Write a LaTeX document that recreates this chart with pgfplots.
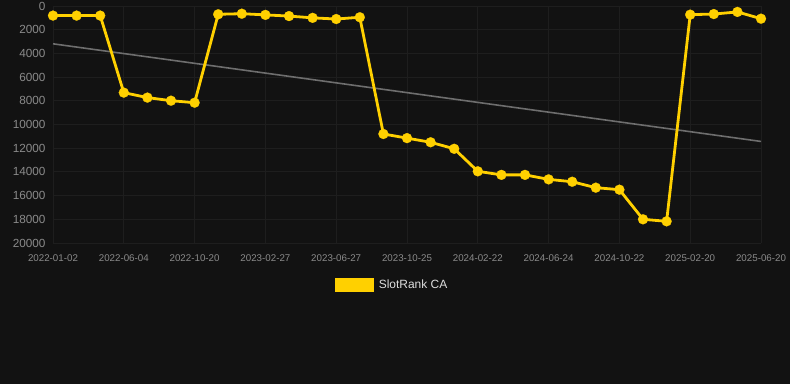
\documentclass[border=0pt]{standalone}
\usepackage{fontspec}
\setmainfont{Liberation Sans}
\usepackage{pgfplots}
\pgfplotsset{compat=1.18}
\definecolor{bg}{HTML}{121212}
\definecolor{grd}{HTML}{1E1E1E}
\definecolor{tick}{HTML}{8A8A8A}
\definecolor{gold}{HTML}{FFD000}
\definecolor{trend}{HTML}{6E6E6E}
\definecolor{legtxt}{HTML}{DDDDDD}
\begin{document}
\begin{tikzpicture}[x=1bp,y=1bp]
\fill[bg] (0,0) rectangle (790,384);
\useasboundingbox (0,0) rectangle (790,384);
\begin{axis}[
  at={(53bp,141bp)}, anchor=south west,
  scale only axis, width=708bp, height=237bp,
  xmin=0, xmax=30, ymin=0, ymax=20000,
  y dir=reverse,
  axis line style={draw=none},
  major tick length=0pt,
  grid=major, grid style={grd, line width=1bp},
  xtick={0,3,...,30},
  xticklabels={2022-01-02,2022-06-04,2022-10-20,2023-02-27,2023-06-27,2023-10-25,2024-02-22,2024-06-24,2024-10-22,2025-02-20,2025-06-20},
  ytick={0,2000,...,20000},
  scaled y ticks=false,
  /pgf/number format/1000 sep={},
  /pgf/number format/assume math mode=true,
  x tick label style={font=\fontsize{9.8}{11}\selectfont, color=tick, yshift=-8bp},
  y tick label style={font=\fontsize{11.8}{13}\selectfont, color=tick, xshift=-4bp},
  clip=false,
  legend style={at={(0.479,-0.177)}, anchor=center, draw=none, fill=none,
    font=\fontsize{12}{14}\selectfont\color{legtxt}},
  legend cell align=left,
]
\addplot[trend, line width=1.6bp, forget plot] coordinates {(0,3190) (30,11430)};
\addplot[gold, line width=2.8bp, mark=*, mark size=5bp, mark options={fill=gold, draw=gold, line width=0.2bp},
  legend image code/.code={\fill[gold] (0bp,-5.5bp) rectangle (36bp,5.5bp);}]
coordinates {
(0,810) (1,810) (2,810) (3,7310) (4,7730) (5,7990) (6,8160)
(7,700) (8,650) (9,750) (10,850) (11,1000) (12,1100) (13,950)
(14,10800) (15,11150) (16,11500) (17,12050)
(18,13950) (19,14250) (20,14250) (21,14630) (22,14830) (23,15330) (24,15500)
(25,18000) (26,18170) (27,730) (28,680) (29,500) (30,1070)
};
\addlegendentry{\hspace{3bp}SlotRank CA}
\end{axis}
\end{tikzpicture}
\end{document}
